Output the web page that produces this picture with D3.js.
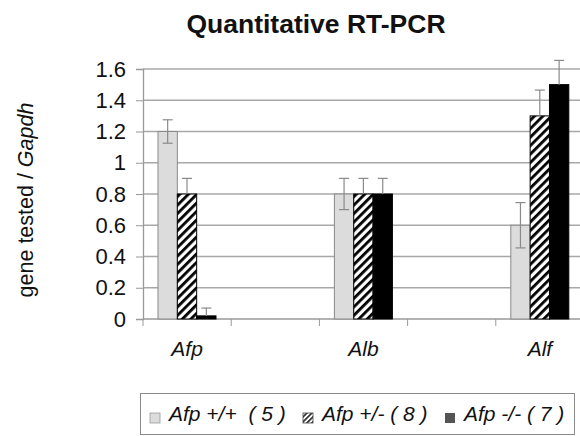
<!DOCTYPE html>
<html>
<head>
<meta charset="utf-8">
<script src="https://cdn.jsdelivr.net/npm/d3@7"></script>
<style>
  body { margin: 0; background: #fff; }
  text { font-family: Arial, "Liberation Sans", sans-serif; }
</style>
</head>
<body>
<svg id="chart" width="580" height="436"></svg>
<script>
//
//Data
//

// blank slots are spacers between the gene groups
var categories = ["Afp", "gap1", "Alb", "gap2", "Alf"];
var genes = ["Afp", "Alb", "Alf"];
var series = ["Afp +/+  ( 5 )", "Afp +/- ( 8 )", "Afp -/- ( 7 )"];
var wildType = [1.2, 0.8, 0.6];
var hetero = [0.8, 0.8, 1.3];
var knockout = [0.02, 0.8, 1.5];
var wildTypeErr = [0.075, 0.1, 0.145];
var heteroErr = [0.1, 0.1, 0.165];
var knockoutErr = [0.05, 0.1, 0.155];
var yTicks = [0, 0.2, 0.4, 0.6, 0.8, 1, 1.2, 1.4, 1.6];

var values = [wildType, hetero, knockout];
var errors = [wildTypeErr, heteroErr, knockoutErr];

//
//Set up scales
//

var svg = d3.select("#chart");
var plotLeft = 143, plotRight = 584, plotTop = 69, plotBottom = 319;

var x0 = d3.scaleBand().domain(categories).range([plotLeft, plotRight]);
var x1 = d3.scaleBand().domain(d3.range(series.length)).range([15, 73]);
var y = d3.scaleLinear().domain([0, 1.6]).range([plotBottom, plotTop]);

//Hatch pattern for the heterozygous bars
var defs = svg.append("defs");
defs.append("pattern")
  .attr("id", "hatch")
  .attr("patternUnits", "userSpaceOnUse")
  .attr("width", 6)
  .attr("height", 6)
  .attr("patternTransform", "rotate(45)")
  .call(function(p) {
    p.append("rect").attr("width", 6).attr("height", 6).attr("fill", "#fff");
    p.append("rect").attr("width", 2.8).attr("height", 6).attr("fill", "#000");
  });
defs.append("pattern")
  .attr("id", "hatchSmall")
  .attr("patternUnits", "userSpaceOnUse")
  .attr("width", 3.5)
  .attr("height", 3.5)
  .attr("patternTransform", "rotate(45)")
  .call(function(p) {
    p.append("rect").attr("width", 3.5).attr("height", 3.5).attr("fill", "#fff");
    p.append("rect").attr("width", 1.6).attr("height", 3.5).attr("fill", "#222");
  });

var fills = ["#dcdcdc", "url(#hatch)", "#000"];
var legendFills = ["#dcdcdc", "url(#hatchSmall)", "#555"];

//
//Gridlines and axes
//

svg.append("g")
  .selectAll("line")
  .data(yTicks.slice(1))
  .join("line")
  .attr("x1", plotLeft)
  .attr("x2", plotRight)
  .attr("y1", function(d) { return y(d); })
  .attr("y2", function(d) { return y(d); })
  .attr("stroke", "#a8a8a8")
  .attr("stroke-width", 1.3);

var yAxis = svg.append("g")
  .attr("transform", "translate(" + plotLeft + ",0)")
  .call(d3.axisLeft(y).tickValues(yTicks).tickSize(7).tickPadding(10).tickFormat(d3.format("")));
yAxis.select(".domain").attr("stroke", "#999").attr("stroke-width", 1.3);
yAxis.selectAll(".tick line").attr("stroke", "#999");
yAxis.selectAll("text")
  .attr("font-size", 22)
  .attr("fill", "#111")
  .style("font-family", "Arial, 'Liberation Sans', sans-serif");

// category boundary ticks along the bottom
svg.append("g")
  .selectAll("line")
  .data(categories)
  .join("line")
  .attr("x1", function(d) { return x0(d); })
  .attr("x2", function(d) { return x0(d); })
  .attr("y1", plotBottom)
  .attr("y2", plotBottom + 7)
  .attr("stroke", "#999");

svg.append("line")
  .attr("x1", plotLeft).attr("x2", plotRight)
  .attr("y1", plotBottom).attr("y2", plotBottom)
  .attr("stroke", "#999").attr("stroke-width", 1.3);

svg.append("g")
  .selectAll("text")
  .data(genes)
  .join("text")
  .attr("x", function(d) { return x0(d) + x0.bandwidth() / 2; })
  .attr("y", 356)
  .attr("text-anchor", "middle")
  .attr("font-size", 21)
  .attr("font-style", "italic")
  .attr("fill", "#111")
  .text(function(d) { return d; });

//
//Bars and error bars
//

var groups = svg.append("g")
  .selectAll("g")
  .data(genes)
  .join("g")
  .attr("transform", function(d) { return "translate(" + x0(d) + ",0)"; });

series.forEach(function(s, si) {
  groups.append("rect")
    .attr("x", x1(si))
    .attr("width", x1.bandwidth())
    .attr("y", function(d, gi) { return y(values[si][gi]); })
    .attr("height", function(d, gi) { return plotBottom - y(values[si][gi]); })
    .attr("fill", fills[si])
    .attr("stroke", si == 0 ? "#8a8a8a" : "#000")
    .attr("stroke-width", 1);
});

series.forEach(function(s, si) {
  groups.each(function(d, gi) {
    var g = d3.select(this);
    var cx = x1(si) + x1.bandwidth() / 2;
    var v = values[si][gi], e = errors[si][gi];
    var hi = y(v + e);
    // only the light bars show the lower whisker
    var lo = si == 0 ? y(v - e) : y(v);
    g.append("line")
      .attr("x1", cx).attr("x2", cx)
      .attr("y1", hi).attr("y2", lo)
      .attr("stroke", "#8a8a8a").attr("stroke-width", 1.2);
    g.append("line")
      .attr("x1", cx - 5).attr("x2", cx + 5)
      .attr("y1", hi).attr("y2", hi)
      .attr("stroke", "#8a8a8a").attr("stroke-width", 1.2);
    if (si == 0) {
      g.append("line")
        .attr("x1", cx - 5).attr("x2", cx + 5)
        .attr("y1", lo).attr("y2", lo)
        .attr("stroke", "#8a8a8a").attr("stroke-width", 1.2);
    }
  });
});

//
//Titles
//

svg.append("text")
  .attr("x", 316)
  .attr("y", 33)
  .attr("text-anchor", "middle")
  .attr("font-size", 26.5)
  .attr("font-weight", "bold")
  .attr("fill", "#111")
  .text("Quantitative RT-PCR");

var ylab = svg.append("text")
  .attr("transform", "translate(33,200) rotate(-90)")
  .attr("text-anchor", "middle")
  .attr("font-size", 21.5)
  .attr("fill", "#111");
ylab.append("tspan").text("gene tested / ");
ylab.append("tspan").attr("font-style", "italic").text("Gapdh");

//
//Legend
//

svg.append("rect")
  .attr("x", 140.5).attr("y", 393.5)
  .attr("width", 434).attr("height", 41)
  .attr("fill", "#fff")
  .attr("stroke", "#8a8a8a");

var legendX = [150, 303, 445];
var legend = svg.append("g")
  .selectAll("g")
  .data(series)
  .join("g")
  .attr("transform", function(d, i) { return "translate(" + legendX[i] + ",0)"; });

legend.append("rect")
  .attr("y", 413)
  .attr("width", 10)
  .attr("height", 10)
  .attr("fill", function(d, i) { return legendFills[i]; })
  .attr("stroke", function(d, i) { return i == 0 ? "#999" : (i == 1 ? "#444" : "none"); })
  .attr("stroke-width", 0.8);

legend.append("text")
  .attr("x", 19)
  .attr("y", 421)
  .attr("font-size", 21)
  .attr("font-style", "italic")
  .attr("fill", "#111")
  .attr("xml:space", "preserve")
  .style("white-space", "pre")
  .text(function(d) { return d; });
</script>
</body>
</html>
